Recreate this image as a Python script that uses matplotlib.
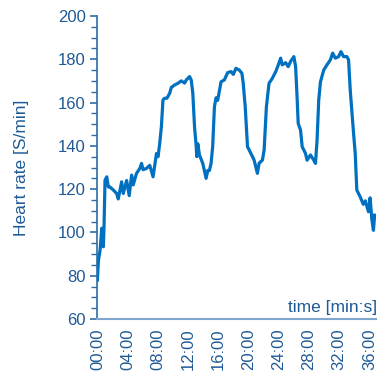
import matplotlib
matplotlib.use("Agg")
import matplotlib.pyplot as plt
from matplotlib.ticker import MultipleLocator, FuncFormatter

# time in minutes, heart rate in beats/min
time_min = [0.0, 0.13, 0.36, 0.58, 0.79, 0.88, 1.01, 1.24, 1.45, 1.67, 2.11, 2.55, 2.76,
            3.21, 3.42, 3.87, 4.21, 4.53, 4.74, 5.18, 5.62, 5.84, 6.05, 6.5, 6.93, 7.37,
            7.59, 7.82, 8.03, 8.25, 8.47, 8.68, 8.91, 9.21, 9.57, 9.79, 10.22, 10.66,
            11.11, 11.54, 11.76, 12.2, 12.42, 12.63, 12.86, 13.08, 13.16, 13.29, 13.51,
            13.95, 14.39, 14.61, 14.83, 15.05, 15.26, 15.49, 15.71, 15.92, 16.37, 16.8,
            17.24, 17.68, 17.99, 18.34, 18.78, 19.13, 19.3, 19.57, 19.87, 20.32, 20.75,
            21.18, 21.41, 21.84, 22.07, 22.37, 22.72, 23.16, 23.61, 23.95, 24.26, 24.47,
            24.92, 25.26, 25.58, 26.01, 26.24, 26.45, 26.58, 26.89, 27.11, 27.55, 27.76,
            28.21, 28.64, 28.87, 29.08, 29.3, 29.53, 29.96, 30.39, 30.84, 31.14, 31.5,
            31.93, 32.24, 32.59, 33.03, 33.25, 33.47, 33.91, 34.13, 34.34, 34.78, 35.2,
            35.47, 35.88, 36.1, 36.33, 36.54, 36.7]
heart_rate = [78, 87, 92, 102, 93.4, 103, 124.2, 125.7, 121, 121, 119.6, 118, 115.5,
              123.4, 118, 124, 117, 126.5, 122, 127.3, 129.6, 131.9, 129, 129.6, 131, 125.7,
              131, 136.5, 135, 141.2, 148.8, 161.2, 162, 162, 164.3, 167, 168.1, 168.9,
              170, 169, 170.4, 172, 170.4, 164.3, 148.8, 139.6, 135, 141, 135.8,
              131.9, 125, 128.6, 128.6, 132, 139.6, 158, 162.2, 161, 169.6, 170.4,
              173.8, 174.3, 173, 175.8, 175, 173.5, 169, 158, 139.6, 136.5, 133.4,
              127.3, 132, 133.4, 138, 158, 168.9, 171.2, 174.3, 177.4, 180.5, 177.4,
              178.4, 176.6, 179, 181.2, 176.6, 161.2, 150.4, 147.3, 139.6, 136.5, 133.4,
              135.8, 133.4, 131.9, 142.7, 161.2, 169.6, 175, 177.4, 179.7, 182.8, 180.5,
              181.2, 183.5, 181.2, 181.2, 179.7, 165.8, 145.8, 136.5, 119.6, 116.5, 113,
              114.6, 109.6, 116, 106, 101, 108]

x_tick_minutes = [0, 4, 8, 12, 16, 20, 24, 28, 32, 36]
y_range = (60, 200)

line_color = "#0070C0"
text_color = "#1F5A96"
spine_left = "#2E6DA4"
spine_bottom = "#7FA6CF"

plt.rcParams["font.family"] = ["Liberation Sans", "DejaVu Sans"]

fig = plt.figure(figsize=(3.85, 3.79), dpi=100)
ax = fig.add_axes([0.252, 0.158, 0.725, 0.800])

ax.plot(time_min, heart_rate, color=line_color, lw=2.3, solid_joinstyle="round")

ax.set_ylim(*y_range)
ax.set_xlim(-0.05, 36.9)
ax.yaxis.set_major_locator(MultipleLocator(20))
ax.yaxis.set_minor_locator(MultipleLocator(5))
ax.set_xticks(x_tick_minutes)
ax.xaxis.set_major_formatter(FuncFormatter(lambda v, p: f"{int(v):02d}:00"))

for s in ["top", "right"]:
    ax.spines[s].set_visible(False)
ax.spines["left"].set_color(spine_left)
ax.spines["bottom"].set_color(spine_bottom)
ax.spines["left"].set_linewidth(1.2)
ax.spines["bottom"].set_linewidth(1.5)

ax.tick_params(axis="y", which="major", length=5, width=1.2, color=spine_left,
               labelcolor=text_color, labelsize=12, pad=3)
ax.tick_params(axis="y", which="minor", length=4, width=1.0, color=spine_left)
ax.tick_params(axis="x", which="major", length=0, labelcolor=text_color,
               labelsize=12, labelrotation=90, pad=7)

ax.set_ylabel("Heart rate [S/min]", color=text_color, fontsize=12.5, labelpad=21)
ax.text(1.003, 0.015, "time [min:s]", transform=ax.transAxes, ha="right", va="bottom",
        color=text_color, fontsize=12.5)

fig.savefig("out.png", dpi=100)
